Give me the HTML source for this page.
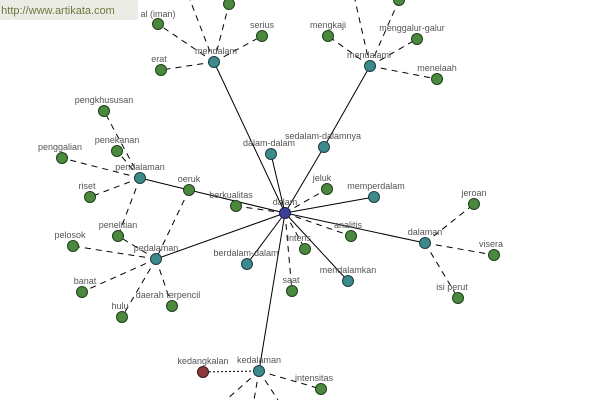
<!DOCTYPE html>
<html><head><meta charset="utf-8"><style>
body{margin:0;width:600px;height:400px;overflow:hidden;background:#fff}
svg{display:block}
text{font-family:"Liberation Sans",sans-serif;font-size:9px;fill:#555;text-anchor:middle}
.s{stroke:#000;stroke-width:1;fill:none}
.d{stroke:#000;stroke-width:1;fill:none;stroke-dasharray:6,5}
.o{stroke:#000;stroke-width:1;fill:none;stroke-dasharray:2,2}
.g{fill:#4b8a3e;stroke:#1f3d1a;stroke-width:1}
.t{fill:#3d8a8c;stroke:#1d3f40;stroke-width:1}
.b{fill:#3c3f98;stroke:#1b1d4a;stroke-width:1}
.r{fill:#8e3a3a;stroke:#3d1717;stroke-width:1}
</style></head><body>
<svg width="600" height="400" viewBox="0 0 600 400">
<!-- solid edges -->
<path class="s" d="M285,213L214,62 M285,213L324,147 L370,66 M285,213L271,154 M285,213L189,190 L140,178 M285,213L156,259 M285,213L259,371 M285,213L425,243 M285,213L374,197 M285,213L247,264 M285,213L348,281"/>
<!-- dashed edges -->
<path class="d" d="M285,213L236,206 M285,213L327,189 M285,213L351,236 M285,213L305,249 M285,213L292,291
M214,62L229,4 M214,62L190,0 M214,62L158,24 M214,62L262,36 M214,62L161,70
M370,66L399,0 M370,66L355,0 M370,66L328,36 M370,66L417,39 M370,66L437,79
M140,178L104,111 M140,178L117,151 M140,178L62,158 M140,178L90,197 M140,178L118,236
M189,190L156,259
M156,259L73,246 M156,259L82,292 M156,259L122,317 M156,259L172,306 M156,259L118,236
M425,243L474,204 M425,243L494,255 M425,243L458,298
M259,371L321,389 M259,371L226,400 M259,371L254,400 M259,371L278,400"/>
<path class="o" d="M259,371L203,372"/>
<!-- nodes -->
<g>
<circle class="g" cx="229" cy="4" r="5.5"/><circle class="g" cx="158" cy="24" r="5.5"/><circle class="g" cx="262" cy="36" r="5.5"/><circle class="g" cx="161" cy="70" r="5.5"/>
<circle class="g" cx="399" cy="0" r="5.5"/><circle class="g" cx="328" cy="36" r="5.5"/><circle class="g" cx="417" cy="39" r="5.5"/><circle class="g" cx="437" cy="79" r="5.5"/>
<circle class="g" cx="104" cy="111" r="5.5"/><circle class="g" cx="117" cy="151" r="5.5"/><circle class="g" cx="62" cy="158" r="5.5"/><circle class="g" cx="90" cy="197" r="5.5"/><circle class="g" cx="118" cy="236" r="5.5"/>
<circle class="g" cx="189" cy="190" r="5.5"/><circle class="g" cx="236" cy="206" r="5.5"/><circle class="g" cx="327" cy="189" r="5.5"/><circle class="g" cx="351" cy="236" r="5.5"/><circle class="g" cx="305" cy="249" r="5.5"/><circle class="g" cx="292" cy="291" r="5.5"/>
<circle class="g" cx="73" cy="246" r="5.5"/><circle class="g" cx="82" cy="292" r="5.5"/><circle class="g" cx="122" cy="317" r="5.5"/><circle class="g" cx="172" cy="306" r="5.5"/>
<circle class="g" cx="474" cy="204" r="5.5"/><circle class="g" cx="494" cy="255" r="5.5"/><circle class="g" cx="458" cy="298" r="5.5"/>
<circle class="g" cx="321" cy="389" r="5.5"/><circle class="r" cx="203" cy="372" r="5.5"/>
<circle class="t" cx="214" cy="62" r="5.5"/><circle class="t" cx="370" cy="66" r="5.5"/><circle class="t" cx="140" cy="178" r="5.5"/><circle class="t" cx="156" cy="259" r="5.5"/><circle class="t" cx="259" cy="371" r="5.5"/><circle class="t" cx="425" cy="243" r="5.5"/><circle class="t" cx="271" cy="154" r="5.5"/><circle class="t" cx="324" cy="147" r="5.5"/><circle class="t" cx="374" cy="197" r="5.5"/><circle class="t" cx="247" cy="264" r="5.5"/><circle class="t" cx="348" cy="281" r="5.5"/>
<circle class="b" cx="285" cy="213" r="5.5"/>
</g>
<!-- labels -->
<g>
<text x="158" y="17">al (iman)</text><text x="262" y="28">serius</text><text x="159" y="62">erat</text><text x="216" y="54">mendalam</text>
<text x="328" y="28">mengkaji</text><text x="412" y="31">menggalur-galur</text><text x="369" y="58">mendalami</text><text x="437" y="71">menelaah</text>
<text x="104" y="103">pengkhususan</text><text x="117" y="143">penekanan</text><text x="60" y="150">penggalian</text><text x="140" y="170">pendalaman</text><text x="87" y="189">riset</text><text x="189" y="182">oeruk</text>
<text x="231" y="198">berkualitas</text><text x="269" y="146">dalam-dalam</text><text x="323" y="139">sedalam-dalamnya</text><text x="322" y="181">jeluk</text><text x="376" y="189">memperdalam</text><text x="285" y="205">dalam</text>
<text x="348" y="228">analitis</text><text x="299" y="241">intens</text><text x="246" y="256">berdalam-dalam</text><text x="291" y="283">saat</text><text x="348" y="273">mendalamkan</text>
<text x="118" y="228">penelitian</text><text x="70" y="238">pelosok</text><text x="156" y="251">pedalaman</text><text x="85" y="284">banat</text><text x="120" y="309">hulu</text><text x="168" y="298">daerah terpencil</text>
<text x="474" y="196">jeroan</text><text x="491" y="247">visera</text><text x="425" y="235">dalaman</text><text x="452" y="290">isi perut</text>
<text x="203" y="364">kedangkalan</text><text x="259" y="363">kedalaman</text><text x="314" y="381">intensitas</text>
</g>
<rect x="0" y="0" width="138" height="20" fill="#ecece6"/>
<text x="58" y="14" style="font-size:11px;fill:#6a7a3a">http://www.artikata.com</text>
</svg>
</body></html>
